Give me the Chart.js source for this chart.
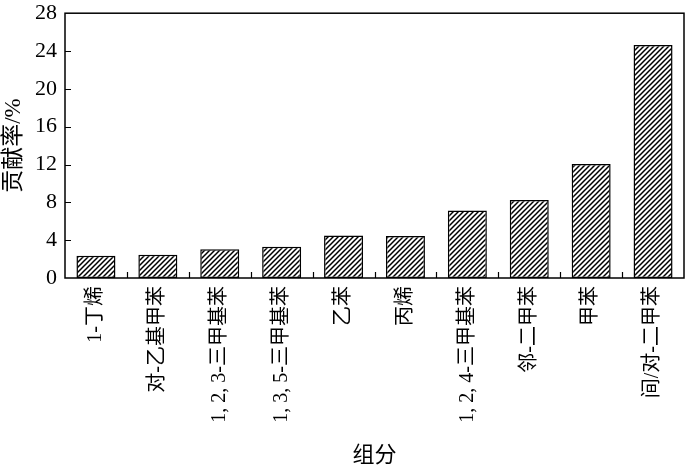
<!DOCTYPE html>
<html>
<head>
<meta charset="utf-8">
<script src="https://cdn.jsdelivr.net/npm/chart.js@4.4.0/dist/chart.umd.min.js"></script>
<style>
  html, body { margin: 0; padding: 0; background: #fff; }
  #wrap { width: 700px; height: 469px; }
</style>
</head>
<body>
<div id="wrap"><canvas id="chart" width="700" height="469"></canvas></div>
<script>
// Categories and contribution rates (%)
const components = ['1-丁烯', '对-乙基甲苯', '1, 2, 3-三甲基苯', '1, 3, 5-三甲基苯', '乙苯',
                    '丙烯', '1, 2, 4-三甲基苯', '邻-二甲苯', '甲苯', '间/对-二甲苯'];
const contribution = [2.35, 2.45, 3.05, 3.3, 4.5, 4.45, 7.15, 8.25, 12.05, 24.65];

// Y axis
const Y_MIN = 0;
const Y_MAX = 28;
const Y_STEP = 4;

const FONT = '"Liberation Serif", "Noto Sans CJK SC", serif';

// Diagonal hatch pattern
function makeHatch() {
    const size = 5;
    const c = document.createElement('canvas');
    c.width = size;
    c.height = size;
    const g = c.getContext('2d');
    g.fillStyle = '#fff';
    g.fillRect(0, 0, size, size);
    g.strokeStyle = '#000';
    g.lineWidth = 1.5;
    g.beginPath();
    g.moveTo(-1, size + 1);
    g.lineTo(size + 1, -1);
    g.moveTo(-1, 1);
    g.lineTo(1, -1);
    g.moveTo(size - 1, size + 1);
    g.lineTo(size + 1, size - 1);
    g.stroke();
    return g.createPattern(c, 'repeat');
}

// Frame and inward ticks
const framePlugin = {
    id: 'frame',
    afterDraw(chart) {
        const { ctx, chartArea: a, scales } = chart;
        ctx.save();
        ctx.strokeStyle = '#000';
        ctx.lineWidth = 1.5;
        ctx.strokeRect(a.left, a.top, a.right - a.left, a.bottom - a.top);

        ctx.lineWidth = 1.2;
        ctx.beginPath();
        // y ticks pointing right
        for (let v = Y_MIN + Y_STEP; v < Y_MAX; v += Y_STEP) {
            const y = Math.round(scales.y.getPixelForValue(v)) + 0.5;
            ctx.moveTo(a.left, y);
            ctx.lineTo(a.left + 6, y);
        }
        // x ticks between categories pointing up
        for (let i = 0; i < components.length - 1; i++) {
            const x = Math.round((scales.x.getPixelForTick(i) + scales.x.getPixelForTick(i + 1)) / 2) + 0.5;
            ctx.moveTo(x, a.bottom);
            ctx.lineTo(x, a.bottom - 6);
        }
        ctx.stroke();
        ctx.restore();
    }
};

new Chart(document.getElementById('chart'), {
    type: 'bar',
    data: {
        labels: components,
        datasets: [{
            data: contribution,
            backgroundColor: makeHatch(),
            borderColor: '#000',
            borderWidth: 1.5,
            borderSkipped: false,
            categoryPercentage: 1,
            barPercentage: 0.63
        }]
    },
    options: {
        responsive: false,
        animation: false,
        layout: { padding: { top: 11, right: 16, left: 0, bottom: 0 } },
        plugins: {
            legend: { display: false },
            tooltip: { enabled: false }
        },
        scales: {
            x: {
                grid: { display: false },
                border: { display: false },
                ticks: {
                    color: '#000',
                    font: { family: FONT, size: 20 },
                    minRotation: 90,
                    maxRotation: 90,
                    padding: 0,
                    autoSkip: false
                },
                title: {
                    display: true,
                    text: '组分',
                    color: '#000',
                    font: { family: FONT, size: 22 },
                    padding: { top: 0, bottom: 0 }
                },
                afterFit(scale) { scale.height = 191; }
            },
            y: {
                min: Y_MIN,
                max: Y_MAX,
                grid: { display: false },
                border: { display: false },
                ticks: {
                    stepSize: Y_STEP,
                    color: '#000',
                    font: { family: FONT, size: 22 },
                    padding: 0
                },
                title: {
                    display: true,
                    text: '贡献率/%',
                    color: '#000',
                    font: { family: FONT, size: 23 },
                    padding: { top: 0, bottom: 0 }
                },
                afterFit(scale) { scale.width = 65; }
            }
        }
    },
    plugins: [framePlugin]
});
</script>
</body>
</html>
